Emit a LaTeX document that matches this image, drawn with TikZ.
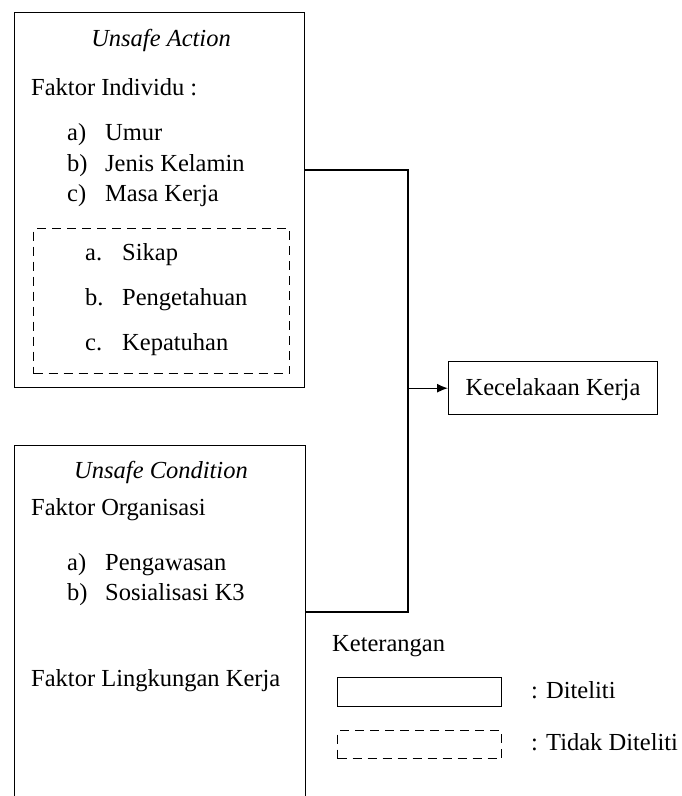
\documentclass[tikz,border=0pt]{standalone}
\usepackage{fontspec}
\setmainfont{Liberation Serif}
\usetikzlibrary{arrows.meta}
\tikzset{
  box/.style={draw, line width=1.4pt, rectangle, inner sep=0pt, anchor=north west},
  dbox/.style={box, dash pattern=on 9pt off 6pt},
  txt/.style={anchor=base west, inner sep=0pt, font=\fontsize{24.5}{30.5}\selectfont},
  ctxt/.style={anchor=base, inner sep=0pt, font=\fontsize{24.5}{30.5}\selectfont\itshape},
  conn/.style={line width=1.4pt},
  arr/.style={line width=1.4pt, -{Latex[length=11pt,width=9pt]}}
}
\begin{document}
\begin{tikzpicture}[x=1pt,y=-1pt]
\useasboundingbox (0,0) rectangle (682,796);
\clip (0,0) rectangle (682,796);
% top box
\node[box, minimum width=290pt, minimum height=375pt] (ua) at (14,12) {};
\node[ctxt] (uat) at (161,46) {Unsafe Action};
\node[txt] (fi) at (31,95) {Faktor Individu :};
\node[txt] (m1) at (67,140) {a)};
\node[txt] (t1) at (105,140) {Umur};
\node[txt] (m2) at (67,171) {b)};
\node[txt] (t2) at (105,171) {Jenis Kelamin};
\node[txt] (m3) at (67,201) {c)};
\node[txt] (t3) at (105,201) {Masa Kerja};
\node[dbox, minimum width=256pt, minimum height=145pt] (nd) at (33,228) {};
\node[txt] (n1) at (85,260) {a.};
\node[txt] (s1) at (122,260) {Sikap};
\node[txt] (n2) at (85,305) {b.};
\node[txt] (s2) at (122,305) {Pengetahuan};
\node[txt] (n3) at (85,350) {c.};
\node[txt] (s3) at (122,350) {Kepatuhan};
% bottom box
\node[box, minimum width=291pt, minimum height=400pt] (uc) at (14,445) {};
\node[ctxt] (uct) at (161,478) {Unsafe Condition};
\node[txt] (fo) at (31,515) {Faktor Organisasi};
\node[txt] (p1) at (67,570) {a)};
\node[txt] (q1) at (105,570) {Pengawasan};
\node[txt] (p2) at (67,600) {b)};
\node[txt] (q2) at (105,600) {Sosialisasi K3};
\node[txt] (fl) at (31,686) {Faktor Lingkungan Kerja};
% target
\node[box, minimum width=209pt, minimum height=53pt] (kk) at (448,361) {};
\node[txt, anchor=base] (kkt) at (553,395) {Kecelakaan Kerja};
% connectors
\coordinate (j1) at (408,170);
\coordinate (j2) at (408,612);
\draw[conn] (ua.east |- j1) -- (j1) -- (j2) -- (uc.east |- j2);
\draw[arr] (j1 |- kk.west) -- (kk.west);
% legend
\node[txt] (ket) at (332,651) {Keterangan};
\node[box, minimum width=164pt, minimum height=29pt] (lb1) at (337,677) {};
\node[txt] (lt1) at (531,698) {: Diteliti};
\node[dbox, minimum width=164pt, minimum height=28pt] (lb2) at (337,730) {};
\node[txt] (lt2) at (531,750) {: Tidak Diteliti};
\end{tikzpicture}
\end{document}
